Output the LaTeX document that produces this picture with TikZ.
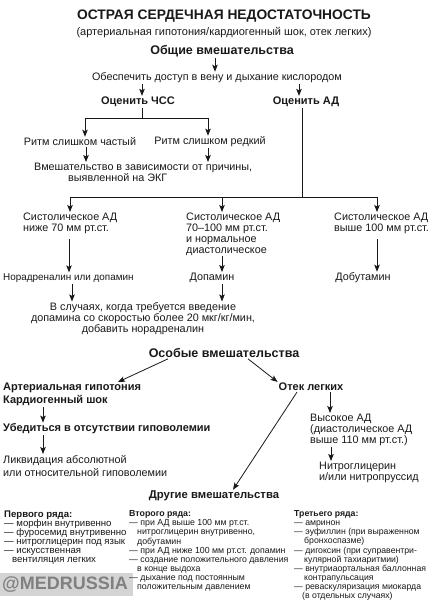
\documentclass[tikz,border=0pt]{standalone}
\usepackage{fontspec}
\setmainfont{Liberation Sans}
\usetikzlibrary{arrows.meta}
\definecolor{wmbg}{RGB}{212,212,212}
\definecolor{wmfg}{RGB}{128,128,128}
\definecolor{ink}{RGB}{25,25,25}
\begin{document}
\begin{tikzpicture}[x=1pt,y=-1pt,
  base/.style={inner sep=1pt, text=ink},
  ttl/.style={base, font=\fontsize{13.8}{15}\selectfont\bfseries},
  hd/.style={base, font=\fontsize{12.5}{14}\selectfont\bfseries},
  hb/.style={base, font=\fontsize{11}{13}\selectfont\bfseries, align=left},
  tx/.style={base, font=\fontsize{10.8}{10.8}\selectfont, align=left},
  sma/.style={base, font={\fontsize{9.6}{9.1}\selectfont\lineskiplimit=-5pt}, align=left},
  smb/.style={base, font={\fontsize{8.8}{9.1}\selectfont\lineskiplimit=-5pt}, align=left},
  smc/.style={base, font={\fontsize{8.7}{9.1}\selectfont\lineskiplimit=-5pt}, align=left},
  wm/.style={inner sep=0pt, text=wmfg, font=\fontsize{18}{20}\selectfont\bfseries},
  ln/.style={draw=ink, line width=0.8pt},
  arr/.style={ln, -{Stealth[length=7pt,width=5.5pt,inset=1.5pt]}},
]
\useasboundingbox[fill=white] (0,0) rectangle (444,604);

% ---------- nodes ----------
\node[ttl] (title) at (224,16) {ОСТРАЯ СЕРДЕЧНАЯ НЕДОСТАТОЧНОСТЬ};
\node[tx, font=\fontsize{11}{12}\selectfont] (sub) at (224,33) {(артериальная гипотония/кардиогенный шок, отек легких)};
\node[hd] (gen) at (222,51) {Общие вмешательства};
\node[tx] (access) at (217,78) {Обеспечить доступ в вену и дыхание кислородом};
\node[hb] (hr) at (138,102) {Оценить ЧСС};
\node[hb] (bp) at (306,102) {Оценить АД};
\node[tx] (fast) at (80,142) {Ритм слишком частый};
\node[tx] (slow) at (210,142) {Ритм слишком редкий};
\node[tx, anchor=north west] (ekg) at (33,162) {Вмешательство в зависимости от причины,\\\hspace*{34pt}выявленной на ЭКГ};
\node[tx, anchor=north west] (s1) at (22,212) {Систолическое АД\\ниже 70 мм рт.ст.};
\node[tx, anchor=north west] (s2) at (185,212) {Систолическое АД\\70–100 мм рт.ст.\\и нормальное\\диастолическое};
\node[tx, anchor=north west] (s3) at (333,212) {Систолическое АД\\выше 100 мм рт.ст.};
\node[tx, anchor=west, font=\fontsize{9.9}{10.8}\selectfont] (norad) at (2,278) {Норадреналин или допамин};
\node[tx] (dopa) at (212,278) {Допамин};
\node[tx] (dobu) at (363,278) {Добутамин};
\node[tx, align=center] (note) at (143,318.5) {В случаях, когда требуется введение\\допамина со скоростью более 20 мкг/кг/мин,\\добавить норадреналин};
\node[hd] (spec) at (224,353) {Особые вмешательства};
\node[hb, anchor=north west] (hypo) at (2,382) {Артериальная гипотония\\Кардиогенный шок};
\node[hb] (edema) at (311,387) {Отек легких};
\node[hb, anchor=west] (hypov) at (2,429) {Убедиться в отсутствии гиповолемии};
\node[tx, font=\fontsize{10.8}{13}\selectfont, anchor=north west] (liq) at (2,454) {Ликвидация абсолютной\\или относительной гиповолемии};
\node[tx, anchor=north west] (high) at (309,413) {Высокое АД\\(диастолическое АД\\выше 110 мм рт.ст.)};
\node[tx, anchor=north west] (nitro) at (318,461) {Нитроглицерин\\и/или нитропруссид};
\node[hd, font=\fontsize{11.3}{13}\selectfont\bfseries] (other) at (214,496) {Другие вмешательства};

% watermark
\fill[wmbg] (0,573) rectangle (133,596);
\node[wm] (wmark) at (65,584.5) {@MEDRUSSIA};

\node[sma, anchor=north west] (c1) at (3,509.5) {\textbf{Первого ряда:}\\— морфин внутривенно\\— фуросемид внутривенно\\— нитроглицерин под язык\\— искусственная\\\hspace*{8pt}вентиляция легких};
\node[smb, anchor=north west] (c2) at (128,509.5) {\textbf{Второго ряда:}\\— при АД выше 100 мм рт.ст.\\\hspace*{8pt}нитроглицерин внутривенно,\\\hspace*{8pt}добутамин\\— при АД ниже 100 мм рт.ст. допамин\\— создание положительного давления\\\hspace*{8pt}в конце выдоха\\— дыхание под постоянным\\\hspace*{8pt}положительным давлением};
\node[smc, anchor=north west] (c3) at (293,509.5) {\textbf{Третьего ряда:}\\— амринон\\— эуфиллин (при выраженном\\\hspace*{10pt}бронхоспазме)\\— дигоксин (при суправентри-\\\hspace*{10pt}кулярной тахиаритмии)\\— внутриаортальная баллонная\\\hspace*{10pt}контрапульсация\\— реваскуляризация миокарда\\\hspace*{8pt}(в отдельных случаях)};

% ---------- connectors ----------
\draw[arr] (gen.south -| 215,0) -- (access.north -| 215,0);
\draw[arr] (access.south -| 142,0) -- (hr.north -| 142,0);
\draw[arr] (access.south -| 299,0) -- (bp.north -| 299,0);

\coordinate (hrj) at (142,118);
\coordinate (hrl) at (85,118);
\coordinate (hrr) at (208,118);
\draw[ln] (hr.south -| hrj) -- (hrj);
\draw[ln] (hrl) -- (hrr);
\draw[arr] (hrl) -- (fast.north -| hrl);
\draw[arr] (hrr) -- (slow.north -| hrr);
\draw[arr] (fast.south -| 86,0) -- (ekg.north -| 86,0);
\draw[arr] (slow.south -| 208,0) -- (ekg.north -| 208,0);

\coordinate (bpj) at (302,197);
\coordinate (bpl) at (70,197);
\coordinate (bpm) at (222,197);
\coordinate (bpr) at (377,197);
\draw[ln] (bp.south -| bpj) -- (bpj);
\draw[ln] (bpl) -- (bpr);
\draw[arr] (bpl) -- (s1.north -| bpl);
\draw[arr] (bpm) -- (s2.north -| bpm);
\draw[arr] (bpr) -- (s3.north -| bpr);

\draw[arr, shorten <=4pt] (s1.south -| 69,0) -- (norad.north -| 69,0);
\draw[arr] (s2.south -| 222,0) -- (dopa.north -| 222,0);
\draw[arr, shorten <=4pt] (s3.south -| 377,0) -- (dobu.north -| 377,0);
\draw[arr] (norad.south -| 72,0) -- (note.north -| 72,0);
\draw[arr] (dopa.south -| 222,0) -- (note.north -| 222,0);

\draw[arr] (spec.south -| 168,0) -- (hypo.north -| 118,0);
\draw[arr] (spec.south -| 248,0) -- (edema.north west);
\draw[arr] (hypo.south -| 43,0) -- (hypov.north -| 43,0);
\draw[arr] (hypov.south -| 43,0) -- (liq.north -| 43,0);
\draw[arr] (edema.south -| 330,0) -- (high.north -| 330,0);
\draw[arr] (high.south -| 331,0) -- (nitro.north -| 331,0);
\draw[arr] (edema.south -| 297,0) -- (other.north -| 233,0);
\end{tikzpicture}
\end{document}
